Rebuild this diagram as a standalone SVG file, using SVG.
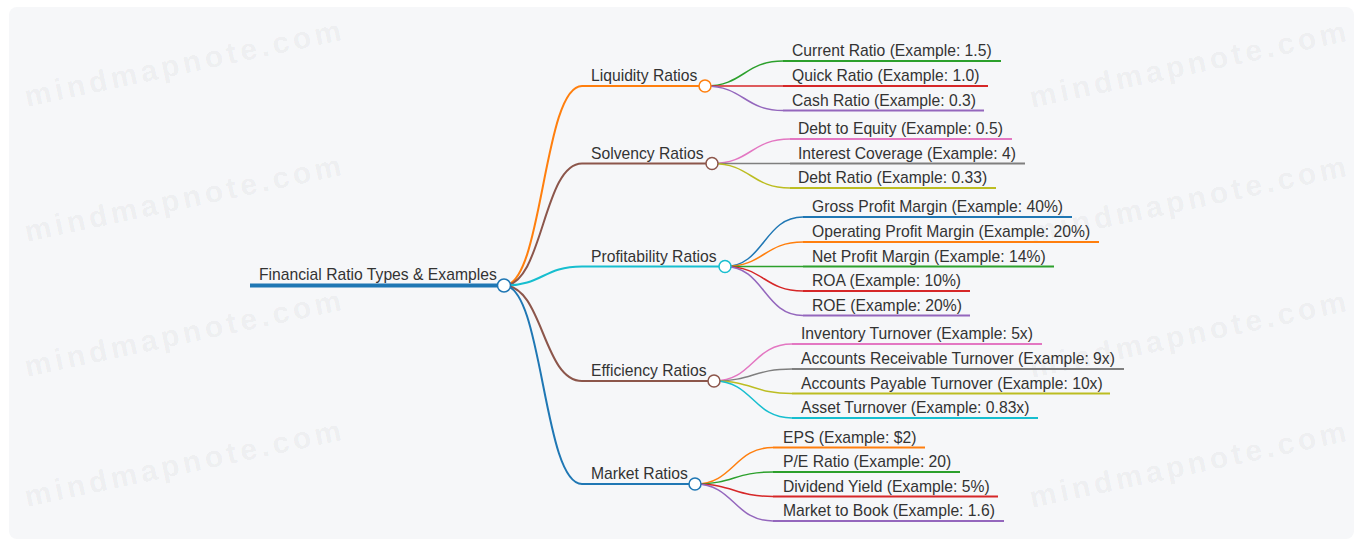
<svg xmlns="http://www.w3.org/2000/svg" width="1363" height="546" viewBox="0 0 1363 546">
<style>
text{font-family:"Liberation Sans",Arial,sans-serif;font-size:15.7px;fill:#333}
.wm{font-family:"Liberation Sans",Arial,sans-serif;font-size:30px;font-weight:bold;fill:#000;fill-opacity:0.05;letter-spacing:4px}
.c{fill:#fff;stroke-width:1.5}
.lk{fill:none;stroke-width:1.5}
.lk2{fill:none;stroke-width:2}
</style>
<rect x="0" y="0" width="1363" height="546" fill="#fff"/>
<rect x="9" y="7" width="1345" height="532" rx="8" fill="#f6f7f9"/>
<g id="watermarks">
<text class="wm" transform="translate(27,107) rotate(-12)">mindmapnote.com</text>
<text class="wm" transform="translate(27,242) rotate(-12)">mindmapnote.com</text>
<text class="wm" transform="translate(27,377) rotate(-12)">mindmapnote.com</text>
<text class="wm" transform="translate(27,507) rotate(-12)">mindmapnote.com</text>
<text class="wm" transform="translate(1032,108) rotate(-12)">mindmapnote.com</text>
<text class="wm" transform="translate(1032,243) rotate(-12)">mindmapnote.com</text>
<text class="wm" transform="translate(1032,378) rotate(-12)">mindmapnote.com</text>
<text class="wm" transform="translate(1032,508) rotate(-12)">mindmapnote.com</text>
</g>
<g id="connectors">
<path class="lk2" stroke="#ff7f0e" d="M504,285.5 C543,285.5 543,86 582,86"/>
<path class="lk2" stroke="#8c564b" d="M504,285.5 C543,285.5 543,163.5 582,163.5"/>
<path class="lk2" stroke="#17becf" d="M504,285.5 C543,285.5 543,266.5 582,266.5"/>
<path class="lk2" stroke="#8c564b" d="M504,285.5 C543,285.5 543,381 582,381"/>
<path class="lk2" stroke="#1f77b4" d="M504,285.5 C543,285.5 543,484 582,484"/>
<path class="lk" stroke="#2ca02c" d="M705,86 C744,86 744,61 783,61"/>
<path class="lk" stroke="#d62728" d="M705,86 C744,86 744,86 783,86"/>
<path class="lk" stroke="#9467bd" d="M705,86 C744,86 744,110.5 783,110.5"/>
<path class="lk" stroke="#e377c2" d="M712,163.5 C751,163.5 751,139 790,139"/>
<path class="lk" stroke="#7f7f7f" d="M712,163.5 C751,163.5 751,163.5 790,163.5"/>
<path class="lk" stroke="#bcbd22" d="M712,163.5 C751,163.5 751,188 790,188"/>
<path class="lk" stroke="#1f77b4" d="M725,266.5 C764,266.5 764,217 803,217"/>
<path class="lk" stroke="#ff7f0e" d="M725,266.5 C764,266.5 764,242 803,242"/>
<path class="lk" stroke="#2ca02c" d="M725,266.5 C764,266.5 764,266.5 803,266.5"/>
<path class="lk" stroke="#d62728" d="M725,266.5 C764,266.5 764,291 803,291"/>
<path class="lk" stroke="#9467bd" d="M725,266.5 C764,266.5 764,315.5 803,315.5"/>
<path class="lk" stroke="#e377c2" d="M714,381 C753,381 753,344 792,344"/>
<path class="lk" stroke="#7f7f7f" d="M714,381 C753,381 753,369 792,369"/>
<path class="lk" stroke="#bcbd22" d="M714,381 C753,381 753,393.5 792,393.5"/>
<path class="lk" stroke="#17becf" d="M714,381 C753,381 753,418 792,418"/>
<path class="lk" stroke="#ff7f0e" d="M695,484 C734,484 734,447.5 773,447.5"/>
<path class="lk" stroke="#2ca02c" d="M695,484 C734,484 734,472 773,472"/>
<path class="lk" stroke="#d62728" d="M695,484 C734,484 734,496.5 773,496.5"/>
<path class="lk" stroke="#9467bd" d="M695,484 C734,484 734,521 773,521"/>
</g>
<g id="n-current"><line x1="783" y1="61" x2="1001" y2="61" stroke="#2ca02c" stroke-width="2"/><text x="792" y="56">Current Ratio (Example: 1.5)</text></g>
<g id="n-quick"><line x1="783" y1="86" x2="988" y2="86" stroke="#d62728" stroke-width="2"/><text x="792" y="81">Quick Ratio (Example: 1.0)</text></g>
<g id="n-cash"><line x1="783" y1="110.5" x2="984" y2="110.5" stroke="#9467bd" stroke-width="2"/><text x="792" y="105.5">Cash Ratio (Example: 0.3)</text></g>
<g id="n-dte"><line x1="790" y1="139" x2="1012" y2="139" stroke="#e377c2" stroke-width="2"/><text x="798" y="134">Debt to Equity (Example: 0.5)</text></g>
<g id="n-ic"><line x1="790" y1="163.5" x2="1025" y2="163.5" stroke="#7f7f7f" stroke-width="2"/><text x="798" y="158.5">Interest Coverage (Example: 4)</text></g>
<g id="n-dr"><line x1="790" y1="188" x2="996" y2="188" stroke="#bcbd22" stroke-width="2"/><text x="798" y="183">Debt Ratio (Example: 0.33)</text></g>
<g id="n-gpm"><line x1="803" y1="217" x2="1072" y2="217" stroke="#1f77b4" stroke-width="2"/><text x="812" y="212">Gross Profit Margin (Example: 40%)</text></g>
<g id="n-opm"><line x1="803" y1="242" x2="1099" y2="242" stroke="#ff7f0e" stroke-width="2"/><text x="812" y="237">Operating Profit Margin (Example: 20%)</text></g>
<g id="n-npm"><line x1="803" y1="266.5" x2="1054" y2="266.5" stroke="#2ca02c" stroke-width="2"/><text x="812" y="261.5">Net Profit Margin (Example: 14%)</text></g>
<g id="n-roa"><line x1="803" y1="291" x2="970" y2="291" stroke="#d62728" stroke-width="2"/><text x="812" y="286">ROA (Example: 10%)</text></g>
<g id="n-roe"><line x1="803" y1="315.5" x2="970" y2="315.5" stroke="#9467bd" stroke-width="2"/><text x="812" y="310.5">ROE (Example: 20%)</text></g>
<g id="n-inv"><line x1="792" y1="344" x2="1042" y2="344" stroke="#e377c2" stroke-width="2"/><text x="801" y="339">Inventory Turnover (Example: 5x)</text></g>
<g id="n-ar"><line x1="792" y1="369" x2="1124" y2="369" stroke="#7f7f7f" stroke-width="2"/><text x="801" y="364">Accounts Receivable Turnover (Example: 9x)</text></g>
<g id="n-ap"><line x1="792" y1="393.5" x2="1110" y2="393.5" stroke="#bcbd22" stroke-width="2"/><text x="801" y="388.5">Accounts Payable Turnover (Example: 10x)</text></g>
<g id="n-at"><line x1="792" y1="418" x2="1038" y2="418" stroke="#17becf" stroke-width="2"/><text x="801" y="413">Asset Turnover (Example: 0.83x)</text></g>
<g id="n-eps"><line x1="773" y1="447.5" x2="925" y2="447.5" stroke="#ff7f0e" stroke-width="2"/><text x="783" y="442.5">EPS (Example: $2)</text></g>
<g id="n-pe"><line x1="773" y1="472" x2="960" y2="472" stroke="#2ca02c" stroke-width="2"/><text x="783" y="467">P/E Ratio (Example: 20)</text></g>
<g id="n-dy"><line x1="773" y1="496.5" x2="998" y2="496.5" stroke="#d62728" stroke-width="2"/><text x="783" y="491.5">Dividend Yield (Example: 5%)</text></g>
<g id="n-mtb"><line x1="773" y1="521" x2="1004" y2="521" stroke="#9467bd" stroke-width="2"/><text x="783" y="516">Market to Book (Example: 1.6)</text></g>
<g id="n-liquidity"><line x1="582" y1="86" x2="705" y2="86" stroke="#ff7f0e" stroke-width="2"/><text x="591" y="81">Liquidity Ratios</text><circle class="c" cx="705" cy="86" r="6" stroke="#ff7f0e"/></g>
<g id="n-solvency"><line x1="582" y1="163.5" x2="712" y2="163.5" stroke="#8c564b" stroke-width="2"/><text x="591" y="158.5">Solvency Ratios</text><circle class="c" cx="712" cy="163.5" r="6" stroke="#8c564b"/></g>
<g id="n-profitability"><line x1="582" y1="266.5" x2="725" y2="266.5" stroke="#17becf" stroke-width="2"/><text x="591" y="261.5">Profitability Ratios</text><circle class="c" cx="725" cy="266.5" r="6" stroke="#17becf"/></g>
<g id="n-efficiency"><line x1="582" y1="381" x2="714" y2="381" stroke="#8c564b" stroke-width="2"/><text x="591" y="376">Efficiency Ratios</text><circle class="c" cx="714" cy="381" r="6" stroke="#8c564b"/></g>
<g id="n-market"><line x1="582" y1="484" x2="695" y2="484" stroke="#1f77b4" stroke-width="2"/><text x="591" y="479">Market Ratios</text><circle class="c" cx="695" cy="484" r="6" stroke="#1f77b4"/></g>
<g id="n-root"><line x1="250" y1="285.5" x2="504" y2="285.5" stroke="#1f77b4" stroke-width="4"/><text x="259" y="280">Financial Ratio Types &amp; Examples</text><circle class="c" cx="504" cy="285.5" r="6.5" stroke="#1f77b4" stroke-width="2"/></g>
</svg>
